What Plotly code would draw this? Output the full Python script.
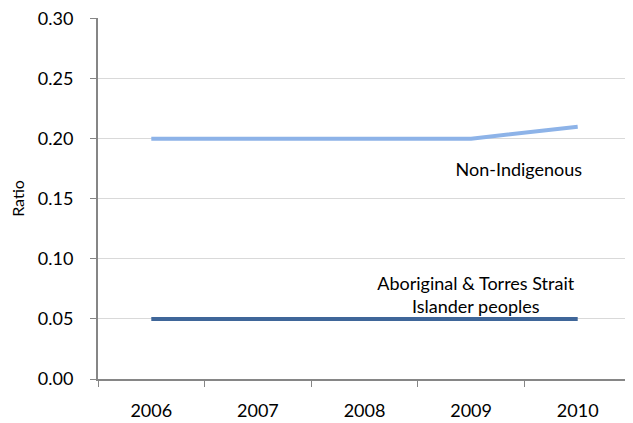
import plotly.graph_objects as go

years = ['2006', '2007', '2008', '2009', '2010']
non_indigenous = [0.20, 0.20, 0.20, 0.20, 0.21]
aboriginal = [0.05, 0.05, 0.05, 0.05, 0.05]
y_ticks = [0.0, 0.05, 0.10, 0.15, 0.20, 0.25, 0.30]

fnt = 'Lato'
fig = go.Figure()
fig.add_trace(go.Scatter(x=years, y=non_indigenous, mode='lines', name='Non-Indigenous',
                         line=dict(color='#8DB3E8', width=4)))
fig.add_trace(go.Scatter(x=years, y=aboriginal, mode='lines',
                         name='Aboriginal & Torres Strait Islander peoples',
                         line=dict(color='#3F6699', width=4)))

fig.add_annotation(x=3.45, y=0.175, text='Non-Indigenous', showarrow=False, width=170,
                   font=dict(size=18, color='black', family=fnt))
fig.add_annotation(x=3.05, y=0.07, text='Aboriginal & Torres Strait<br>Islander peoples',
                   showarrow=False, width=260,
                   font=dict(size=18, color='black', family=fnt), align='center')

# light right border of the plot area
fig.add_shape(type='line', xref='paper', yref='paper', x0=1, x1=1, y0=0, y1=1,
              line=dict(color='#D9D9D9', width=1))

fig.update_layout(width=633, height=423, margin=dict(l=90, r=10, t=10, b=52),
                  plot_bgcolor='white', paper_bgcolor='white', showlegend=False,
                  font=dict(family=fnt, size=18, color='black'))
fig.update_xaxes(type='category', range=[-0.5, 4.5], showgrid=False, showline=True,
                 linecolor='#868686', linewidth=2, ticks='outside', tickson='boundaries',
                 ticklen=6, tickcolor='#868686', tickfont=dict(size=18), ticklabelstandoff=14,
                 automargin=False)
fig.update_yaxes(range=[0, 0.3005], tickvals=y_ticks, ticktext=[f'{v:.2f}' for v in y_ticks],
                 showgrid=True, gridcolor='#D9D9D9', showline=True, linecolor='#868686',
                 linewidth=2, ticks='outside', ticklen=6, tickcolor='#868686',
                 tickfont=dict(size=18), ticklabelstandoff=13, automargin=False,
                 ticklabeloverflow='allow',
                 title=dict(text='Ratio', font=dict(size=16), standoff=10), zeroline=False)

fig.write_html('out.html')
